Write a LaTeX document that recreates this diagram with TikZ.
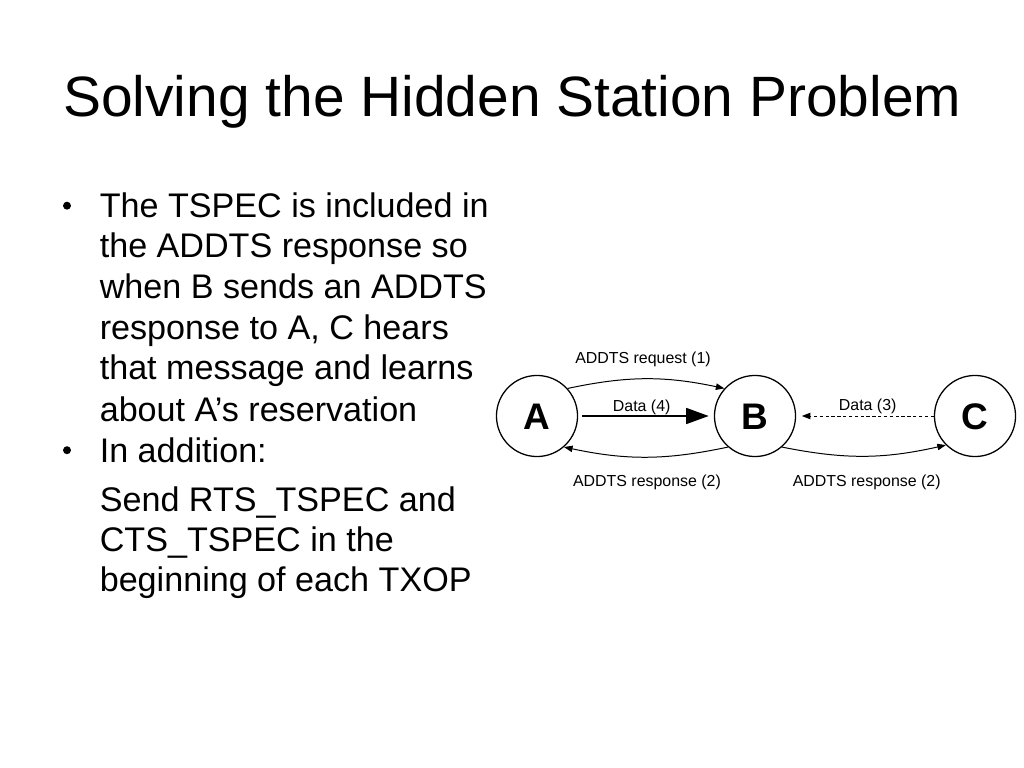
\documentclass[tikz,border=0pt]{standalone}
\usepackage{fontspec}
\setmainfont{Liberation Sans}
\usetikzlibrary{arrows.meta,positioning}

\begin{document}
\begin{tikzpicture}[x=0.703125pt,y=0.703125pt,
    station/.style={draw,circle,line width=0.9pt,minimum size=57pt,inner sep=0pt,
        text height=18.6pt,text depth=0pt,font=\fontsize{26}{26}\selectfont\bfseries},
    msg/.style={anchor=base,inner sep=0pt,font=\fontsize{11.2}{13}\selectfont},
    body/.style={anchor=base west,inner sep=0pt,font=\fontsize{24}{28}\selectfont},
    link/.style={line width=0.7pt,-{Triangle[length=6pt,width=4.5pt]}}]
\fill[white] (0,0) rectangle (1024,-768);
\useasboundingbox (0,0) rectangle (1024,-768);

% Title
\node[anchor=base west,inner sep=0pt,font=\fontsize{40}{48}\selectfont] (title) at (63,-117)
    {Solving the Hidden Station Problem};

% First bullet, one node per line
\fill (67,-205.7) circle (2.8pt);
\foreach \txt/\y [count=\i] in {{The TSPEC is included in}/217.5, {the ADDTS response so}/258,
    {when B sends an ADDTS}/298.5, {response to A, C hears}/339,
    {that message and learns}/379.5, {about A’s reservation}/421} {
    \node[body] (line\i) at (99.5,-\y) {\txt};
}

% Second bullet
\fill (67,-450.2) circle (2.8pt);
\node[body] (add) at (99.5,-462) {In addition:};
\foreach \txt/\y [count=\i] in {{Send RTS\_TSPEC and}/511, {CTS\_TSPEC in the}/551,
    {beginning of each TXOP}/591} {
    \node[body] (sub\i) at (99.5,-\y) {\txt};
}

% Stations
\node[station] (A) at (537,-416) {A};
\node[station] (B) at (755,-416) {B};
\node[station] (C) at (975,-416) {C};

% Messages
\draw[link] (A.42) to[bend left=12] (B.138);
\draw[link] (B.229) to[bend left=12] (A.311);
\draw[link] (B.-49) to[bend right=12] (C.225);
\draw[line width=2pt,-{Triangle[length=16pt,width=11pt]},shorten <=3pt,shorten >=3.5pt] (A.east) -- (B.west);
\draw[link,dash pattern=on 2.3pt off 1.8pt,shorten >=4pt] (C.west) -- (B.east);

% Labels
\node[msg] (req) at (643,-363.3) {ADDTS request (1)};
\node[msg] (d4) at (641.7,-411) {Data (4)};
\node[msg] (respAB) at (647,-486.7) {ADDTS response (2)};
\node[msg] (d3) at (867.7,-410) {Data (3)};
\node[msg] (respBC) at (866.7,-486.7) {ADDTS response (2)};
\end{tikzpicture}
\end{document}
